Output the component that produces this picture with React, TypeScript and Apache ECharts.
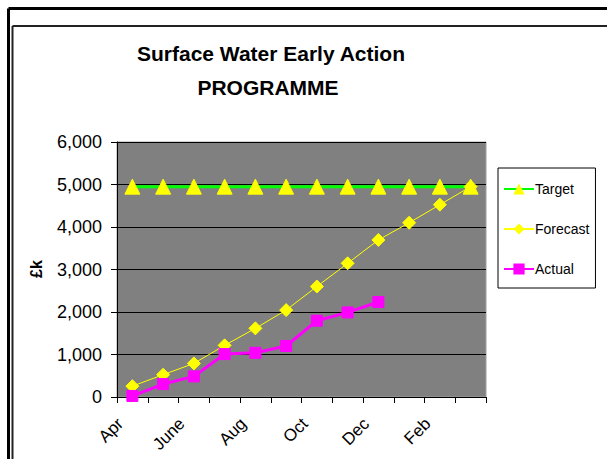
import React, { useEffect, useRef } from "react";
import * as echarts from "echarts";

const months = ["Apr", "May", "June", "July", "Aug", "Sep", "Oct", "Nov", "Dec", "Jan", "Feb", "Mar"];
const target = [4950, 4950, 4950, 4950, 4950, 4950, 4950, 4950, 4950, 4950, 4950, 4950];
const forecast = [255, 525, 790, 1215, 1615, 2045, 2600, 3145, 3695, 4100, 4525, 4950];
const actual = [25, 305, 485, 1010, 1040, 1200, 1795, 1990, 2235];

const FONT = "'Liberation Sans', Arial, sans-serif";

export default function App() {
  const ref = useRef<HTMLDivElement>(null);
  useEffect(() => {
    const chart = echarts.init(ref.current!, null, { renderer: "svg" });
    chart.setOption({
      animation: false,
      backgroundColor: "#ffffff",
      textStyle: { fontFamily: FONT },
      graphic: [
        { type: "line", shape: { x1: 8.5, y1: 8.5, x2: 607, y2: 8.5 }, style: { stroke: "#000", lineWidth: 3 } },
        { type: "line", shape: { x1: 8.5, y1: 8.5, x2: 8.5, y2: 459 }, style: { stroke: "#000", lineWidth: 3 } },
        { type: "line", shape: { x1: 12.5, y1: 26, x2: 607, y2: 26 }, style: { stroke: "#222", lineWidth: 2 } },
        { type: "line", shape: { x1: 12.5, y1: 26, x2: 12.5, y2: 459 }, style: { stroke: "#222", lineWidth: 2 } },
        {
          type: "text",
          x: 271,
          y: 53,
          style: { text: "Surface Water Early Action", font: `bold 21px ${FONT}`, fill: "#000", align: "center", verticalAlign: "middle" },
        },
        {
          type: "text",
          x: 268,
          y: 87,
          style: { text: "PROGRAMME", font: `bold 21px ${FONT}`, fill: "#000", align: "center", verticalAlign: "middle" },
        },
        {
          type: "text",
          x: 36,
          y: 269,
          rotation: Math.PI / 2,
          style: { text: "£k", font: `bold 16px ${FONT}`, fill: "#000", align: "center", verticalAlign: "middle" },
        },
      ],
      legend: {
        orient: "vertical",
        left: 498,
        top: 168,
        width: 93,
        height: 124,
        padding: [14, 6, 12, 5],
        itemGap: 26,
        itemWidth: 30,
        itemHeight: 14,
        borderColor: "#000",
        borderWidth: 1,
        backgroundColor: "#fff",
        textStyle: { fontSize: 14, color: "#000", fontFamily: FONT, padding: [0, 0, 0, -4] },
        data: ["Target", "Forecast", "Actual"],
      },
      grid: {
        left: 117,
        right: 121,
        top: 142,
        bottom: 62,
        show: true,
        containLabel: false,
        outerBoundsMode: "none",
        backgroundColor: "#808080",
        borderColor: "#a0a0a0",
        borderWidth: 1,
      },
      xAxis: {
        type: "category",
        data: months,
        boundaryGap: true,
        axisLine: { lineStyle: { color: "#000", width: 1 } },
        axisTick: { show: true, alignWithLabel: false, interval: 0, length: 6, lineStyle: { color: "#000" } },
        axisLabel: {
          interval: 1,
          rotate: 45,
          fontSize: 17,
          color: "#000",
          fontFamily: FONT,
          margin: 12,
          padding: [0, 17, 0, 0],
        },
        splitLine: { show: false },
      },
      yAxis: {
        type: "value",
        min: 0,
        max: 6000,
        interval: 1000,
        axisLine: { show: true, lineStyle: { color: "#000", width: 1 } },
        axisTick: { show: true, length: 6, lineStyle: { color: "#000" } },
        axisLabel: {
          fontSize: 18,
          color: "#000",
          fontFamily: FONT,
          margin: 15,
          formatter: (v: number) => v.toLocaleString("en-GB"),
        },
        splitLine: { show: true, lineStyle: { color: "#000", width: 1 } },
      },
      series: [
        {
          name: "Target",
          type: "line",
          data: target,
          symbol: "triangle",
          symbolSize: 15,
          lineStyle: { color: "#00ff00", width: 3 },
          itemStyle: { color: "#ffff00", borderColor: "#ffff00" },
          z: 3,
        },
        {
          name: "Forecast",
          type: "line",
          data: forecast,
          symbol: "diamond",
          symbolSize: 13,
          lineStyle: { color: "#ffff00", width: 1 },
          itemStyle: { color: "#ffff00", borderColor: "#ffff00" },
          z: 4,
        },
        {
          name: "Actual",
          type: "line",
          data: actual,
          symbol: "rect",
          symbolSize: 11,
          lineStyle: { color: "#ff00ff", width: 3 },
          itemStyle: { color: "#ff00ff", borderColor: "#ff00ff" },
          z: 5,
        },
      ],
    });
    return () => chart.dispose();
  }, []);
  return <div ref={ref} style={{ position: "fixed", left: 0, top: 0, width: 607, height: 459 }} />;
}
